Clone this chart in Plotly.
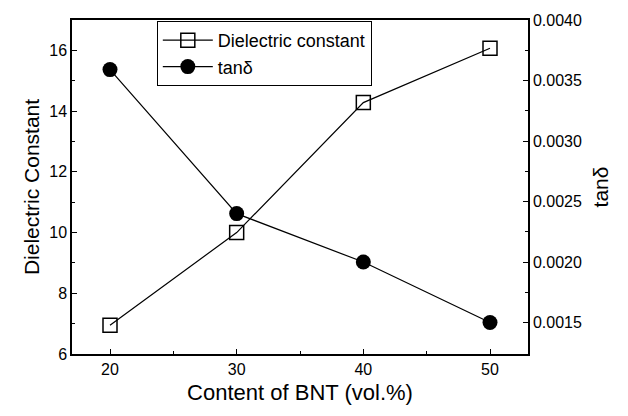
import plotly.graph_objects as go

bnt_content = [20, 30, 40, 50]
dielectric_constant = [6.95, 10.0, 14.28, 16.07]
tan_delta = [0.00359, 0.00240, 0.00200, 0.00150]

FONT = "Liberation Sans, Arial, sans-serif"

fig = go.Figure()
fig.add_trace(go.Scatter(
    x=bnt_content, y=dielectric_constant, name="Dielectric constant",
    mode="lines+markers",
    line=dict(color="black", width=1.2),
    marker=dict(symbol="square-open", size=14, color="black", line=dict(width=1.5)),
    yaxis="y",
))
fig.add_trace(go.Scatter(
    x=bnt_content, y=tan_delta, name="tanδ",
    mode="lines+markers",
    line=dict(color="black", width=1.2),
    marker=dict(symbol="circle", size=15, color="black"),
    yaxis="y2",
))

axis_common = dict(
    showline=True, linecolor="black", linewidth=1.5,
    ticks="inside", ticklen=5, tickcolor="black", tickwidth=1.2,
    showgrid=False, zeroline=False,
    tickfont=dict(family=FONT, size=16, color="black"),
)

fig.update_layout(
    width=628, height=416,
    margin=dict(l=72, r=100, t=15, b=62),
    paper_bgcolor="white", plot_bgcolor="white",
    font=dict(family=FONT, color="black"),
    xaxis=dict(
        range=[17, 53], tickvals=[20, 30, 40, 50], mirror=True,
        title=dict(text="Content of BNT (vol.%)", font=dict(family=FONT, size=22), standoff=8),
        minor=dict(ticks="inside", ticklen=3, tickcolor="black", tickvals=[25, 35, 45]),
        **axis_common,
    ),
    yaxis=dict(
        range=[6, 17], tickvals=[6, 8, 10, 12, 14, 16],
        title=dict(text="Dielectric Constant", font=dict(family=FONT, size=21), standoff=4),
        minor=dict(ticks="inside", ticklen=3, tickcolor="black", tickvals=[7, 9, 11, 13, 15]),
        **axis_common,
    ),
    yaxis2=dict(
        range=[0.00124, 0.0040], overlaying="y", side="right",
        tickvals=[0.0015, 0.0020, 0.0025, 0.0030, 0.0035, 0.0040],
        tickformat=".4f",
        title=dict(text="tanδ", font=dict(family=FONT, size=21), standoff=12),
        minor=dict(ticks="inside", ticklen=3, tickcolor="black",
                   tickvals=[0.00175, 0.00225, 0.00275, 0.00325, 0.00375]),
        **axis_common,
    ),
    showlegend=True,
    legend=dict(
        x=0.186, y=0.997, xanchor="left", yanchor="top",
        bordercolor="black", borderwidth=1, bgcolor="white",
        font=dict(family=FONT, size=18, color="black"),
        itemwidth=50, tracegroupgap=0,
    ),
)

fig.write_html("out.html")
